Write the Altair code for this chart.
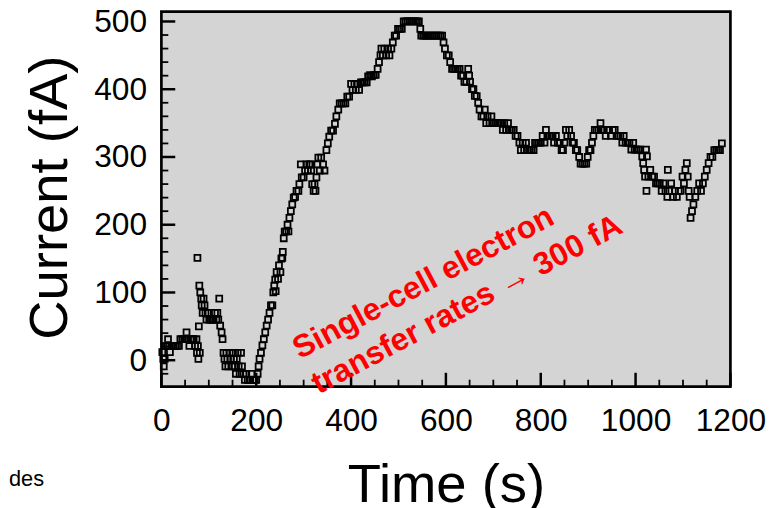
import altair as alt
import pandas as pd

# Time (s) and current (fA)
time_s = [2,4,5,7,9,12,14,16,18,21,25,29,33,37,40,44,48,51,53,56,59,62,65,68,71,74,75,76,77,78,79,80,81,82,84,85,87,89,91,93,95,98,101,104,107,110,113,116,118,120,122,124,127,129,
          131,133,135,137,139,141,144,146,149,151,153,155,157,159,161,163,165,168,170,173,176,179,182,186,190,193,197,200,203,205,
          207,210,213,216,219,222,225,228,231,234,236,238,240,241,243,246,248,251,253,255,256,258,260,263,266,268,270,273,276,279,282,285,289,291,294,296,300,303,
          306,309,312,314,316,318,321,323,325,327,329,331,334,337,341,344,348,351,354,358,362,366,369,373,376,380,384,388,392,396,400,403,407,410,414,417,421,425,429,433,436,440,444,448,452,456,459,462,
          464,467,470,474,478,481,485,488,492,495,499,503,507,511,515,519,523,527,531,535,539,543,546,548,552,556,560,564,568,572,576,580,584,588,592,595,598,602,606,609,613,617,621,625,629,632,636,639,643,647,649,651,655,658,661,665,668,671,675,679,682,685,688,692,696,700,
          704,708,712,716,720,723,727,731,735,739,743,747,751,755,758,762,765,769,773,777,781,785,788,792,796,800,804,808,811,814,818,822,825,828,832,836,840,844,847,850,853,856,860,864,867,870,874,877,881,884,888,892,896,899,902,905,908,911,914,918,922,926,929,933,937,940,944,948,
          952,956,960,964,968,972,975,979,983,987,991,995,998,1002,1006,1010,1014,1016,1018,1020,1022,1024,1023,1027,1031,1035,1039,1043,1047,1051,1055,1059,1063,1067,1068,1071,1075,1079,1083,1087,1091,1095,1099,1102,1105,1108,1110,1112,1114,1116,1119,1122,1126,1130,1134,1138,1142,1146,1150,1154,1158,1162,1166,1170,1174,1178,1182]
current_fA = [12,2,-9,2,21,21,31,21,12,21,21,21,21,21,31,31,31,31,41,31,21,31,31,31,21,31,11,151,21,2,50,110,11,100,91,81,70,91,81,70,60,70,60,60,60,60,70,60,70,60,91,51,41,31,
              11,2,-9,11,2,-9,11,2,-9,11,2,-9,-20,2,11,-9,-20,11,-9,-20,-29,-20,-29,-29,-20,-29,-29,-29,-20,-9,
              2,11,22,31,41,51,60,70,81,81,100,110,119,102,130,120,140,130,150,151,160,180,190,190,200,190,210,220,230,240,241,250,250,260,289,270,270,280,
              289,280,289,289,280,260,250,260,250,270,289,299,280,299,289,280,310,320,330,339,339,349,360,370,379,379,379,379,389,389,408,399,408,399,408,399,410,410,410,410,419,421,419,421,421,430,440,450,
              460,450,460,450,460,450,460,469,479,479,489,489,489,500,500,500,500,500,500,500,500,500,489,479,479,479,479,479,479,479,479,479,479,479,479,469,460,450,450,440,430,430,430,430,430,420,420,411,411,430,420,411,400,400,390,390,380,370,360,360,370,350,360,350,360,350,
              350,350,350,350,340,350,340,350,340,340,340,331,331,321,310,321,310,321,310,310,310,310,321,321,321,321,331,321,340,331,331,331,331,321,331,321,321,310,310,321,340,331,340,331,321,321,310,310,300,290,290,290,290,300,310,310,321,331,340,340,340,350,340,340,331,340,340,331,
              340,340,331,331,331,321,331,321,321,321,311,321,311,311,311,311,301,291,281,271,311,301,250,271,281,271,271,261,261,261,250,261,250,241,281,250,261,241,250,241,250,250,271,261,281,291,271,250,241,210,220,230,241,250,261,250,261,271,281,291,300,300,310,310,310,310,320]

# Axis tick values
x_major = [0, 200, 400, 600, 800, 1000, 1200]
x_minor = [50, 100, 150, 250, 300, 350, 450, 500, 550, 650, 700, 750, 850, 900, 950, 1050, 1100, 1150]
y_major = [0, 100, 200, 300, 400, 500]
y_minor = [-20, 20, 40, 60, 80, 120, 140, 160, 180, 220, 240, 260, 280, 320, 340, 360, 380, 420, 440, 460, 480]

# Annotation
note_lines = ["Single-cell electron", "transfer rates \u2192 300 fA"]
note_t = [292]
note_v = [1]

W, H = 575, 379
xs = alt.Scale(domain=[0, 1200], nice=False, zero=False)
ys = alt.Scale(domain=[-39, 514.6], nice=False, zero=False)

FONT = "'Liberation Sans', Arial, Helvetica, sans-serif"

df = pd.DataFrame({"t": time_s, "v": current_fA})

points = alt.Chart(df).mark_point(
    shape="square", filled=False, size=36, strokeWidth=1.8, color="black", opacity=1
).encode(
    x=alt.X("t:Q", scale=xs, axis=alt.Axis(
        title="Time (s)", values=x_major, format="d", grid=False, domain=False,
        ticks=False, tickSize=0, labelFlush=False, labelOverlap=False,
        labelFont=FONT, labelFontSize=32, labelColor="black",
        labelBaseline="alphabetic", labelPadding=44,
        titleFont=FONT, titleFontSize=55, titleFontWeight="normal",
        titleColor="black", titleBaseline="alphabetic", titleX=W / 2, titleY=116,
        titleAlign="center")),
    y=alt.Y("v:Q", scale=ys, axis=alt.Axis(
        title="Current (fA)", values=y_major, format="d", grid=False, domain=False,
        ticks=False, tickSize=0, labelFlush=False, labelOverlap=False,
        labelFont=FONT, labelFontSize=32, labelColor="black",
        labelPadding=15, labelBaseline="middle",
        titleFont=FONT, titleFontSize=55, titleFontWeight="normal",
        titleColor="black", titleAngle=270, titleBaseline="alphabetic",
        titleX=-96, titleY=187.5, titleAlign="center")),
)

ymaj = alt.Chart(pd.DataFrame({"v": y_major})).mark_rule(color="black", strokeWidth=2.5).encode(
    y=alt.Y("v:Q", scale=ys, axis=None), x=alt.value(0), x2=alt.value(14))
ymin = alt.Chart(pd.DataFrame({"v": y_minor})).mark_rule(color="black", strokeWidth=1.8).encode(
    y=alt.Y("v:Q", scale=ys, axis=None), x=alt.value(0), x2=alt.value(7))
xmaj = alt.Chart(pd.DataFrame({"t": x_major})).mark_rule(color="black", strokeWidth=2.5).encode(
    x=alt.X("t:Q", scale=xs, axis=None), y=alt.value(H), y2=alt.value(H - 14))
xmin = alt.Chart(pd.DataFrame({"t": x_minor})).mark_rule(color="black", strokeWidth=1.8).encode(
    x=alt.X("t:Q", scale=xs, axis=None), y=alt.value(H), y2=alt.value(H - 7))

note = alt.Chart(pd.DataFrame({"t": note_t, "v": note_v})).mark_text(
    text=note_lines, angle=332, align="left", baseline="alphabetic", lineHeight=40,
    font=FONT, fontSize=32, fontWeight="bold", color="#ff0000"
).encode(x=alt.X("t:Q", scale=xs, axis=None), y=alt.Y("v:Q", scale=ys, axis=None))

des = alt.Chart(pd.DataFrame({"s": ["des"]})).mark_text(
    align="left", baseline="alphabetic", font=FONT, fontSize=22, color="black"
).encode(text="s:N", x=alt.value(-154), y=alt.value(479))

chart = alt.layer(points, ymaj, ymin, xmaj, xmin, note, des).resolve_axis(
    x="independent", y="independent"
).properties(
    width=W, height=H,
    background="white",
    autosize=alt.AutoSizeParams(type="none"),
    padding={"left": 155, "top": 1, "right": 40, "bottom": 120},
).configure_view(
    fill="#d4d4d4", stroke="black", strokeWidth=2.7
)

chart.save("out.html", embed_options={"renderer": "svg", "actions": False})
